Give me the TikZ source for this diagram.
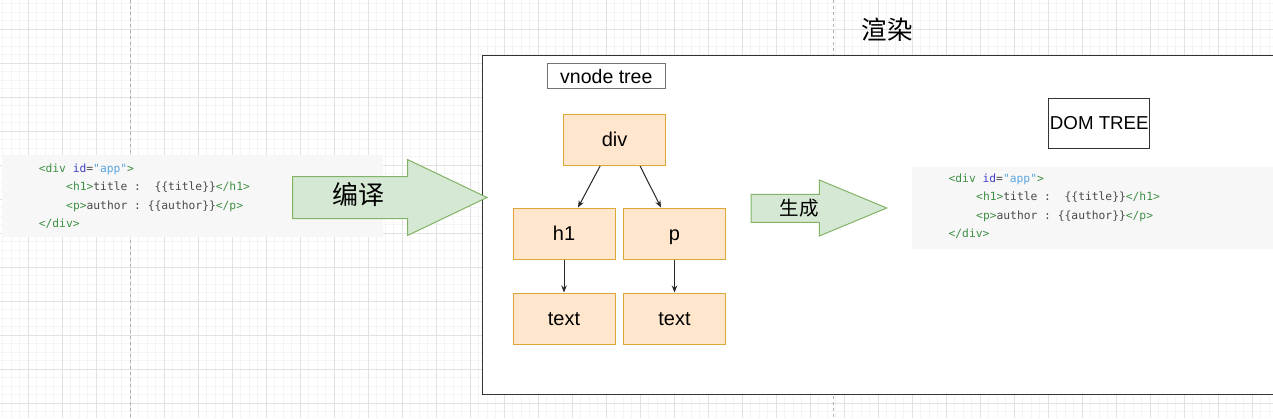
\documentclass[tikz,border=0pt]{standalone}
\usepackage{fontspec}
\setmainfont{Liberation Sans}
\newfontfamily\cjk{Noto Sans CJK SC}
\newfontfamily\codefont{DejaVu Sans Mono}
\usetikzlibrary{arrows.meta}
\definecolor{gridmajor}{HTML}{E2E2E2}
\definecolor{gridminor}{HTML}{F4F4F4}
\definecolor{pagebreak}{HTML}{B0B0B0}
\definecolor{codebg}{HTML}{F7F7F7}
\definecolor{orfill}{HTML}{FFE6CC}
\definecolor{ordraw}{HTML}{DEA838}
\definecolor{grfill}{HTML}{D5E8D4}
\definecolor{grdraw}{HTML}{82B366}
\definecolor{tagc}{HTML}{3F8F45}
\definecolor{attrc}{HTML}{4040C8}
\definecolor{strc}{HTML}{5AA5DE}
\definecolor{txtc}{HTML}{4A4A4A}
\newcommand\tg[1]{\textcolor{tagc}{#1}}
\tikzset{
  treebox/.style={draw=ordraw, fill=orfill, line width=1pt, minimum width=102pt, minimum height=51pt, inner sep=0pt,
    font=\fontsize{20}{24}\selectfont, text height=18.1pt, text depth=4.24pt},
  tarrow/.style={draw=black!85, line width=1pt, -{Stealth[length=7pt,width=5.5pt]}},
  codeline/.style={anchor=base west, inner sep=0pt, text=txtc, font=\codefont\fontsize{11.3}{14}\selectfont},
  bigarrow/.style={draw=grdraw, fill=grfill, line width=1pt, line join=miter},
  codebox/.style={fill=codebg, draw=none},
}
\begin{document}
\begin{tikzpicture}[x=1pt,y=-1pt]
\useasboundingbox (0,0) rectangle (1273,418);
\clip (0,0) rectangle (1273,418);
\fill[white] (0,0) rectangle (1273,418);
% grid
\foreach \i in {0,...,150} {\draw[gridminor, line width=1pt] ({2.8+8.5*\i},0) -- ({2.8+8.5*\i},418);}
\foreach \i in {0,...,49} {\draw[gridminor, line width=1pt] (0,{3.8+8.5*\i}) -- (1273,{3.8+8.5*\i});}
\foreach \i in {0,...,37} {\draw[gridmajor, line width=1pt] ({28.3+34*\i},0) -- ({28.3+34*\i},418);}
\foreach \i in {0,...,12} {\draw[gridmajor, line width=1pt] (0,{29.3+34*\i}) -- (1273,{29.3+34*\i});}
% page breaks
\draw[pagebreak, line width=1pt, dash pattern=on 3pt off 3pt] (130.3,0) -- (130.3,418);
\draw[pagebreak, line width=1pt, dash pattern=on 3pt off 3pt] (833.5,0) -- (833.5,418);

% left code
\fill[codebox] (2,155) rectangle (383.3,237.3);
\node[codeline] (l1) at (38.6,172) {\tg{<div} \textcolor{attrc}{id}=\textcolor{strc}{"app"}\tg{>}};
\node[codeline] (l2) at (66,190.6) {\tg{<h1>}title~:~~\{\{title\}\}\tg{</h1>}};
\node[codeline] (l3) at (66,209.2) {\tg{<p>}author~:~\{\{author\}\}\tg{</p>}};
\node[codeline] (l4) at (38.6,227.8) {\tg{</div>}};

% big frame
\draw[draw=black!80, line width=1.3pt, fill=white] (482.5,55.5) rectangle (1300,394.5);
\node[font=\cjk\fontsize{25.5}{30}\selectfont] (render) at (887,30) {渲染};

% right code
\fill[codebox] (911.7,166.5) rectangle (1300,249);
\node[codeline] (r1) at (948.4,182) {\tg{<div} \textcolor{attrc}{id}=\textcolor{strc}{"app"}\tg{>}};
\node[codeline] (r2) at (976,200.6) {\tg{<h1>}title~:~~\{\{title\}\}\tg{</h1>}};
\node[codeline] (r3) at (976,219.2) {\tg{<p>}author~:~\{\{author\}\}\tg{</p>}};
\node[codeline] (r4) at (948.4,237.8) {\tg{</div>}};

% labels
\node[draw=black!55, line width=1pt, minimum width=118pt, minimum height=25pt, inner sep=0pt,
  font=\fontsize{19.5}{23}\selectfont, text height=17.65pt, text depth=4.13pt] (vt) at (606.3,76.3) {vnode tree};
\node[draw=black!80, line width=1pt, minimum width=101pt, minimum height=50pt, inner sep=0pt,
  font=\fontsize{18.7}{22}\selectfont, text height=16.9pt, text depth=3.96pt] (dt) at (1099.3,123.2) {DOM TREE};

% tree
\node[treebox] (div) at (614.6,140) {div};
\node[treebox] (h1) at (564,233.5) {h1};
\node[treebox] (p) at (674.5,233.5) {p};
\node[treebox] (t1) at (564,318.5) {text};
\node[treebox] (t2) at (674.5,318.5) {text};
\draw[tarrow] ([xshift=-14.5pt]div.south) -- ([xshift=14pt]h1.north);
\draw[tarrow] ([xshift=25.5pt]div.south) -- ([xshift=-13.5pt]p.north);
\draw[tarrow] (h1.south) -- (t1.north);
\draw[tarrow] (p.south) -- (t2.north);

% big arrows
\draw[bigarrow] (292.5,176.5) -- (407.5,176.5) -- (407.5,159.5) -- (487,197.5) -- (407.5,235.5) -- (407.5,218.5) -- (292.5,218.5) -- cycle;
\node[font=\cjk\fontsize{26}{30}\selectfont] (compile) at (358.7,194.5) {编译};
\draw[bigarrow] (751,194.3) -- (819.3,194.3) -- (819.3,180) -- (886.7,208) -- (819.3,236) -- (819.3,222.3) -- (751,222.3) -- cycle;
\node[font=\cjk\fontsize{19.5}{23}\selectfont] (gen) at (799,208.3) {生成};
\end{tikzpicture}
\end{document}
